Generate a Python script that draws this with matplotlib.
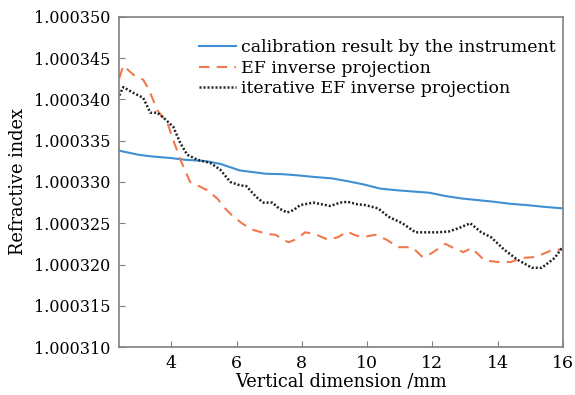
import matplotlib
matplotlib.use("Agg")
import matplotlib.pyplot as plt
import numpy as np

# values, refractive index n
cal_x = [2.4, 3.0, 3.4, 4.0, 4.4, 4.8, 5.1, 5.5, 5.8, 6.1, 6.5, 6.9, 7.4, 7.9,
         8.4, 8.9, 9.4, 9.9, 10.4, 10.9, 11.4, 11.9, 12.4, 12.9, 13.4, 13.9,
         14.4, 14.9, 15.4, 16.0]
cal_n = [1.0003338, 1.0003333, 1.0003331, 1.0003329, 1.0003327, 1.0003326,
         1.0003325, 1.0003322, 1.0003318, 1.0003314, 1.0003312, 1.0003310,
         1.00033095, 1.0003308, 1.0003306, 1.00033045, 1.0003301, 1.0003297,
         1.0003292, 1.0003290, 1.00032885, 1.0003287, 1.0003283, 1.0003280,
         1.0003278, 1.0003276, 1.00032735, 1.0003272, 1.0003270, 1.0003268]

ef_x = [2.41, 2.53, 2.84, 3.14, 3.3, 3.45, 3.57, 3.88, 4.06, 4.28, 4.58, 4.8,
        5.1, 5.41, 5.65, 5.9, 6.2, 6.5, 6.94, 7.2, 7.43, 7.6, 7.85, 8.1, 8.4,
        8.8, 9.1, 9.4, 9.6, 9.85, 10.25, 10.6, 10.95, 11.38, 11.7, 11.95,
        12.4, 12.7, 12.95, 13.2, 13.6, 14.0, 14.4, 14.75, 15.15, 15.4, 15.7,
        16.0]
ef_n = [1.0003426, 1.0003441, 1.0003430, 1.0003424, 1.0003413, 1.0003399,
        1.0003387, 1.0003372, 1.0003351, 1.0003327, 1.0003300, 1.0003296,
        1.0003290, 1.0003280, 1.0003268, 1.0003258, 1.0003249, 1.0003242,
        1.0003237, 1.0003236, 1.0003230, 1.0003227, 1.0003231, 1.0003239,
        1.0003237, 1.0003230, 1.0003233, 1.0003240, 1.0003236, 1.0003233,
        1.0003236, 1.0003230, 1.0003221, 1.0003221, 1.0003209, 1.0003213,
        1.0003225, 1.0003219, 1.0003215, 1.0003220, 1.0003205, 1.0003203,
        1.0003203, 1.0003208, 1.0003209, 1.0003213, 1.0003218, 1.0003218]

it_x = [2.41, 2.53, 2.84, 3.14, 3.36, 3.57, 3.76, 4.06, 4.28, 4.49, 4.8, 5.2,
        5.5, 5.81, 6.1, 6.3, 6.6, 6.82, 7.1, 7.3, 7.55, 7.75, 7.95, 8.35,
        8.87, 9.18, 9.4, 9.7, 9.94, 10.34, 10.65, 11.08, 11.48, 11.8, 12.18,
        12.5, 12.8, 13.16, 13.5, 13.8, 14.2, 14.6, 15.05, 15.35, 15.75, 16.0]
it_n = [1.0003405, 1.0003415, 1.0003408, 1.0003402, 1.0003384, 1.0003384,
        1.0003378, 1.0003367, 1.0003347, 1.0003333, 1.0003327, 1.0003323,
        1.0003315, 1.0003300, 1.0003296, 1.0003295, 1.0003282, 1.0003275,
        1.0003275, 1.0003268, 1.0003263, 1.0003266, 1.0003272, 1.0003275,
        1.0003271, 1.0003275, 1.0003276, 1.0003273, 1.0003272, 1.0003268,
        1.0003258, 1.0003250, 1.0003239, 1.0003239, 1.0003239, 1.0003240,
        1.0003244, 1.0003250, 1.0003239, 1.0003233, 1.0003218, 1.0003206,
        1.0003196, 1.0003196, 1.0003208, 1.0003222]

labels = ["calibration result by the instrument",
          "EF inverse projection",
          "iterative EF inverse projection"]
x_ticks = [4, 6, 8, 10, 12, 14, 16]
y_ticks = [1.000310, 1.000315, 1.000320, 1.000325, 1.000330, 1.000335,
           1.000340, 1.000345, 1.000350]

plt.rcParams["font.family"] = ["DejaVu Serif"]
plt.rcParams["font.size"] = 11.5

fig = plt.figure(figsize=(5.75, 3.95), dpi=100)
ax = fig.add_axes([0.207, 0.1215, 0.772, 0.8355])

ax.plot(cal_x, cal_n, color="#3f8fd2", lw=1.5, label=labels[0])
ax.plot(ef_x, ef_n, color="#f0794f", lw=1.5, ls=(0, (5, 3.5)), label=labels[1])
ax.plot(it_x, it_n, color="#222222", lw=1.8, ls=(0, (0.8, 0.8)), label=labels[2])

ax.set_xlim(2.4, 16)
ax.set_ylim(1.000310, 1.000350)
ax.set_xticks(x_ticks)
ax.set_yticks(y_ticks)
ax.set_yticklabels(["%.6f" % v for v in y_ticks])
ax.tick_params(direction="in", length=4, color="#808080", pad=6)
ax.tick_params(axis="x", labelsize=12.5)
for s in ax.spines.values():
    s.set_color("#808080")
    s.set_linewidth(1.2)

ax.set_xlabel("Vertical dimension /mm", fontsize=12.8, labelpad=0)
ax.set_ylabel("Refractive index", fontsize=12.8, labelpad=5)

ax.legend(loc="upper left", bbox_to_anchor=(0.165, 0.955), frameon=False,
          fontsize=12.5, handlelength=2.1, handletextpad=0.3,
          labelspacing=0.22, borderaxespad=0)

fig.savefig("out.png", dpi=100)
